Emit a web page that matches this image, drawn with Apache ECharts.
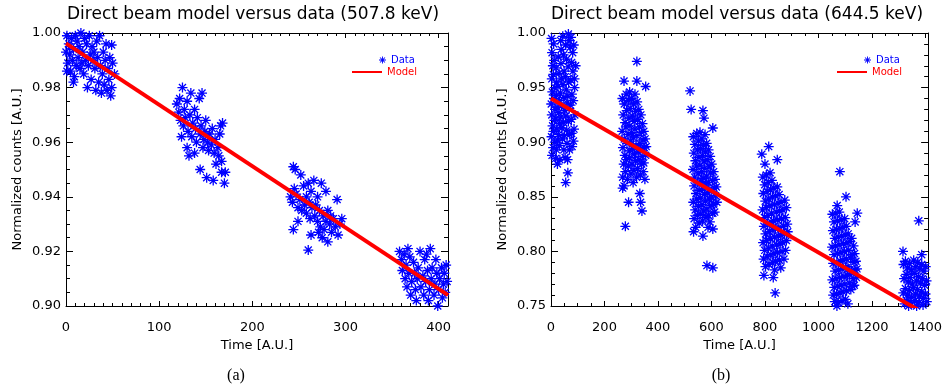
<!DOCTYPE html>
<html><head><meta charset="utf-8">
<script src="https://cdn.jsdelivr.net/npm/echarts@6/dist/echarts.min.js"></script>
<style>html,body{margin:0;padding:0;background:#fff}#c{width:945px;height:386px}</style>
</head><body><div id="c"></div>
<script>
// ---------- titles / labels ----------
const titles = ['Direct beam model versus data (507.8 keV)', 'Direct beam model versus data (644.5 keV)'];
const captions = ['(a)', '(b)'];
const xName = 'Time [A.U.]';
const yName = 'Normalized counts [A.U.]';

// ---------- axis ranges ----------
const leftX = {min: 0, max: 410, major: 100, minor: 10};
const leftY = {min: 0.90, max: 1.00, major: 0.02, minor: 0.005};
const rightX = {min: 0, max: 1410, major: 200, minor: 50};
const rightY = {min: 0.75, max: 1.00, major: 0.05, minor: 0.01};

// ---------- models ----------
const leftModel = [[0, 0.9962], [410, 0.9040]];
const rightModel = [[0, 0.940], [1410, 0.7412]];

// ---------- left data (507.8 keV) ----------
const leftC1 = [[1,0.999],[3,0.996],[4,0.992],[6,0.998],[8,0.994],[10,0.999],[12,0.997],[14,0.995],[16,1.000],[18,0.993],[20,0.998],[22,0.996],[25,0.999],[28,0.995],[30,0.993],[33,0.997],[36,0.999],[2,0.989],[5,0.986],[7,0.990],[9,0.984],[11,0.988],[13,0.991],[15,0.987],[17,0.989],[19,0.985],[21,0.990],[24,0.988],[26,0.992],[29,0.990],[31,0.987],[34,0.991],[37,0.988],[40,0.993],[42,0.990],[45,0.987],[47,0.991],[50,0.989],[43,0.996],[49,0.9956],[8,0.982],[23,0.980],[27,0.983],[32,0.979],[35,0.982],[38,0.978],[41,0.981],[44,0.979],[46,0.983],[48,0.977],[49,0.980],[39,0.985],[4,0.995],[0,0.993],[1,0.986],[52,0.985]];
const leftC2 = [[119,0.974],[121,0.971],[123,0.968],[122,0.976],[125,0.980],[127,0.972],[126,0.966],[128,0.969],[130,0.975],[131,0.964],[133,0.970],[134,0.978],[135,0.962],[136,0.967],[138,0.972],[139,0.965],[140,0.960],[141,0.969],[143,0.976],[144,0.963],[145,0.966],[146,0.978],[147,0.958],[148,0.961],[149,0.964],[150,0.968],[152,0.960],[153,0.957],[154,0.963],[156,0.959],[157,0.965],[159,0.956],[160,0.961],[161,0.952],[163,0.958],[164,0.955],[165,0.963],[166,0.966],[167,0.953],[168,0.967],[170,0.945],[171,0.949],[130,0.958],[138,0.956],[144,0.950],[151,0.947],[158,0.946],[167,0.949],[124,0.962],[132,0.955]];
const leftC3 = [[244,0.951],[246,0.950],[252,0.948],[255,0.944],[260,0.945],[263,0.942],[266,0.946],[270,0.940],[274,0.945],[279,0.942],[291,0.939],[241,0.940],[243,0.938],[247,0.941],[249,0.936],[251,0.939],[253,0.935],[256,0.937],[258,0.934],[261,0.938],[262,0.932],[264,0.936],[267,0.933],[268,0.937],[270,0.931],[272,0.935],[273,0.929],[276,0.933],[277,0.928],[279,0.931],[281,0.935],[283,0.930],[285,0.927],[287,0.932],[289,0.929],[292,0.926],[294,0.930],[249,0.931],[244,0.928],[263,0.926],[260,0.9205],[281,0.9235],[275,0.925],[245,0.943],[258,0.940],[271,0.927],[284,0.933],[296,0.932]];
const leftC4 = [[358,0.920],[360,0.917],[361,0.913],[363,0.919],[364,0.910],[365,0.915],[366,0.907],[368,0.912],[369,0.918],[370,0.904],[371,0.909],[373,0.916],[374,0.912],[375,0.906],[376,0.902],[377,0.910],[378,0.914],[380,0.920],[381,0.907],[382,0.899],[383,0.911],[384,0.904],[385,0.917],[386,0.909],[388,0.913],[389,0.902],[390,0.906],[391,0.921],[392,0.910],[393,0.914],[395,0.904],[396,0.908],[397,0.917],[398,0.912],[399,0.900],[400,0.906],[401,0.910],[403,0.914],[404,0.903],[405,0.908],[406,0.912],[407,0.905],[408,0.915],[409,0.909],[379,0.897],[372,0.898],[394,0.899],[387,0.919],[367,0.921]];

// ---------- right data (644.5 keV) ----------
const rightC1 = [[2,0.995],[4,0.982],[7,0.970],[3,0.958],[5,0.946],[1,0.935],[3,0.925],[6,0.915],[2,0.905],[8,0.895],[4,0.888],[10,0.990],[12,0.975],[9,0.962],[14,0.950],[11,0.940],[15,0.930],[13,0.920],[9,0.910],[14,0.900],[17,0.885],[19,0.968],[21,0.955],[20,0.943],[23,0.932],[18,0.922],[22,0.912],[25,0.902],[20,0.893],[24,0.880],[27,0.978],[30,0.963],[26,0.951],[31,0.938],[29,0.927],[32,0.917],[28,0.907],[31,0.897],[33,0.884],[36,0.993],[38,0.985],[37,0.972],[40,0.958],[35,0.945],[39,0.933],[37,0.923],[41,0.913],[42,0.903],[55,0.863],[63,0.872],[44,0.997],[47,0.980],[49,0.965],[45,0.953],[48,0.941],[51,0.929],[46,0.918],[50,0.906],[48,0.893],[53,0.886],[55,0.989],[58,0.976],[54,0.960],[57,0.948],[60,0.936],[56,0.924],[59,0.911],[60,0.899],[62,0.884],[65,0.999],[67,0.993],[64,0.969],[66,0.955],[63,0.942],[68,0.931],[65,0.919],[70,0.907],[69,0.893],[72,0.987],[75,0.996],[77,0.973],[74,0.957],[78,0.944],[73,0.934],[76,0.921],[77,0.908],[81,0.982],[85,0.989],[82,0.965],[88,0.950],[83,0.938],[89,0.925],[86,0.912],[92,0.970],[88,0.958],[79,0.896],[84,0.901]];
const rightC2 = [[321,0.974],[273,0.956],[321,0.956],[354,0.951],[268,0.858],[332,0.853],[278,0.823],[340,0.837],[335,0.845],[290,0.845],[267,0.940],[270,0.925],[266,0.910],[269,0.895],[272,0.880],[268,0.868],[274,0.935],[277,0.918],[274,0.903],[276,0.888],[278,0.873],[281,0.944],[283,0.929],[280,0.914],[284,0.899],[282,0.884],[286,0.866],[289,0.938],[291,0.922],[288,0.907],[292,0.892],[289,0.878],[294,0.946],[296,0.931],[295,0.915],[298,0.901],[294,0.886],[299,0.871],[301,0.940],[304,0.924],[301,0.909],[305,0.894],[303,0.880],[307,0.863],[309,0.935],[311,0.919],[308,0.904],[312,0.889],[310,0.874],[314,0.944],[316,0.928],[314,0.912],[318,0.897],[316,0.883],[320,0.868],[322,0.937],[324,0.921],[321,0.906],[326,0.891],[324,0.876],[328,0.930],[330,0.914],[332,0.899],[329,0.884],[334,0.870],[336,0.925],[338,0.909],[335,0.894],[339,0.880],[342,0.917],[344,0.902],[341,0.887],[345,0.873],[347,0.910],[349,0.895],[347,0.881],[352,0.903],[354,0.888],[356,0.896],[351,0.866],[273,0.860]];
const rightC3 = [[520,0.947],[524,0.930],[568,0.929],[572,0.922],[605,0.913],[568,0.814],[583,0.787],[605,0.785],[605,0.8205],[532,0.905],[534,0.890],[531,0.875],[535,0.860],[532,0.845],[535,0.830],[538,0.898],[540,0.883],[537,0.868],[542,0.853],[539,0.838],[541,0.822],[545,0.908],[547,0.893],[544,0.878],[548,0.863],[545,0.848],[547,0.833],[551,0.901],[553,0.886],[550,0.871],[554,0.856],[552,0.841],[554,0.826],[557,0.909],[559,0.894],[557,0.879],[561,0.864],[558,0.849],[560,0.834],[564,0.903],[566,0.888],[563,0.873],[567,0.858],[564,0.843],[567,0.828],[570,0.897],[572,0.882],[569,0.867],[574,0.852],[571,0.837],[576,0.907],[578,0.891],[575,0.876],[579,0.861],[577,0.846],[579,0.831],[582,0.899],[584,0.884],[582,0.869],[586,0.854],[583,0.839],[589,0.893],[591,0.878],[588,0.863],[592,0.848],[589,0.833],[595,0.887],[597,0.872],[594,0.857],[599,0.842],[601,0.880],[604,0.865],[601,0.850],[605,0.835],[608,0.873],[610,0.858],[607,0.843],[613,0.866],[615,0.851],[612,0.836],[618,0.859],[620,0.845],[533,0.818],[587,0.822],[594,0.827]];
const rightC4 = [[788,0.889],[814,0.896],[846,0.884],[838,0.762],[871,0.749],[800,0.880],[792,0.868],[794,0.853],[791,0.838],[796,0.823],[793,0.808],[795,0.793],[799,0.861],[801,0.846],[798,0.831],[802,0.816],[799,0.801],[802,0.786],[805,0.870],[808,0.855],[805,0.840],[809,0.825],[806,0.810],[808,0.795],[812,0.863],[814,0.848],[811,0.833],[816,0.818],[813,0.803],[815,0.788],[819,0.872],[821,0.857],[818,0.842],[823,0.827],[820,0.812],[822,0.797],[826,0.865],[828,0.850],[825,0.835],[830,0.820],[827,0.805],[829,0.790],[833,0.858],[835,0.843],[832,0.828],[836,0.813],[833,0.798],[836,0.783],[840,0.851],[842,0.836],[839,0.821],[843,0.806],[840,0.791],[846,0.859],[849,0.844],[846,0.829],[850,0.814],[847,0.799],[853,0.852],[855,0.837],[852,0.822],[857,0.807],[854,0.792],[860,0.845],[862,0.830],[859,0.815],[864,0.800],[867,0.838],[869,0.823],[866,0.808],[871,0.793],[874,0.847],[876,0.831],[873,0.816],[877,0.801],[880,0.840],[883,0.825],[880,0.810],[885,0.818],[796,0.778],[831,0.776],[859,0.785]];
const rightC5 = [[1080,0.873],[1070,0.842],[1103,0.850],[1137,0.827],[1145,0.835],[1052,0.834],[1054,0.819],[1051,0.804],[1055,0.789],[1052,0.774],[1055,0.760],[1058,0.827],[1061,0.812],[1058,0.797],[1062,0.782],[1059,0.767],[1061,0.754],[1065,0.835],[1067,0.820],[1064,0.805],[1069,0.790],[1066,0.775],[1068,0.761],[1071,0.828],[1074,0.813],[1071,0.798],[1075,0.783],[1072,0.768],[1074,0.753],[1078,0.836],[1080,0.821],[1077,0.806],[1082,0.791],[1079,0.776],[1081,0.762],[1085,0.829],[1087,0.814],[1084,0.799],[1088,0.784],[1085,0.769],[1088,0.755],[1091,0.822],[1093,0.807],[1091,0.792],[1095,0.777],[1092,0.763],[1098,0.830],[1100,0.815],[1097,0.800],[1102,0.785],[1099,0.770],[1101,0.756],[1104,0.823],[1107,0.808],[1104,0.793],[1108,0.778],[1105,0.764],[1111,0.816],[1113,0.801],[1110,0.786],[1115,0.771],[1118,0.809],[1120,0.794],[1117,0.779],[1121,0.765],[1124,0.812],[1126,0.797],[1123,0.782],[1128,0.768],[1131,0.805],[1133,0.790],[1130,0.775],[1135,0.798],[1137,0.783],[1134,0.769],[1140,0.791],[1142,0.776],[1144,0.784],[1069,0.750],[1110,0.752]];
const rightC6 = [[1375,0.828],[1316,0.800],[1386,0.797],[1318,0.788],[1320,0.775],[1317,0.762],[1322,0.752],[1325,0.791],[1328,0.779],[1325,0.766],[1330,0.755],[1333,0.785],[1336,0.772],[1332,0.760],[1341,0.789],[1343,0.776],[1340,0.764],[1345,0.753],[1348,0.783],[1351,0.770],[1347,0.758],[1356,0.792],[1358,0.780],[1355,0.767],[1360,0.755],[1364,0.786],[1366,0.773],[1363,0.761],[1371,0.790],[1374,0.777],[1370,0.765],[1375,0.753],[1379,0.784],[1381,0.771],[1378,0.759],[1386,0.788],[1389,0.775],[1386,0.763],[1391,0.751],[1394,0.782],[1397,0.769],[1393,0.757],[1401,0.786],[1404,0.773],[1400,0.761],[1405,0.754],[1367,0.750],[1337,0.750]];

// ---------- styling ----------
const BLUE = '#0000ff', RED = '#ff0000', INK = '#000000';
const FONT = 'DejaVu Sans';
const ASTERISK = 'path://M0 8.7L20 8.7L20 11.3L0 11.3Z M8.7 0L11.3 0L11.3 20L8.7 20Z M3.85 2.01L17.99 16.15L16.15 17.99L2.01 3.85Z M2.01 16.15L16.15 2.01L17.99 3.85L3.85 17.99Z';

const grids = [
  {left: 66, top: 33, width: 382, height: 273},
  {left: 551, top: 33, width: 382, height: 273}
];

function axisSet(dim, gi, r, sides, lenMajor, lenMinor, fmt, name) {
  const out = [];
  sides.forEach((pos, si) => {
    const main = si === 0;
    out.push({
      type: 'value', gridIndex: gi, position: pos, min: r.min, max: r.max, interval: r.major,
      axisLine: {show: true, onZero: false, lineStyle: {color: INK, width: 1}},
      axisTick: {show: true, inside: true, length: lenMajor, lineStyle: {color: INK, width: 1}},
      axisLabel: main ? {show: true, color: INK, fontFamily: FONT, fontSize: 13, margin: dim === 'x' ? 15 : 5,
        formatter: fmt, showMaxLabel: dim === 'y', showMinLabel: true} : {show: false},
      splitLine: {show: false},
      name: main ? name : '', nameLocation: 'middle', nameGap: dim === 'x' ? 30 : 42,
      nameTextStyle: {color: INK, fontFamily: FONT, fontSize: 13}
    });
    out.push({
      type: 'value', gridIndex: gi, position: pos, min: r.min, max: r.max, interval: r.minor,
      axisLine: {show: false, onZero: false},
      axisTick: {show: true, inside: true, length: lenMinor, lineStyle: {color: INK, width: 1}},
      axisLabel: {show: false}, splitLine: {show: false}
    });
  });
  return out;
}

const fx = v => String(Math.round(v));
const fy = v => v.toFixed(2);

const xAxes = [
  ...axisSet('x', 0, leftX, ['bottom', 'top'], 5, 3, fx, xName),
  ...axisSet('x', 1, rightX, ['bottom', 'top'], 5, 3, fx, xName)
];
const yAxes = [
  ...axisSet('y', 0, leftY, ['left', 'right'], 7, 4, fy, yName),
  ...axisSet('y', 1, rightY, ['left', 'right'], 7, 4, fy, yName)
];

const leftData = [].concat(leftC1, leftC2, leftC3, leftC4);
const rightData = [].concat(rightC1, rightC2, rightC3, rightC4, rightC5, rightC6);

function scatter(data, xi, yi) {
  return {name: 'Data', type: 'scatter', xAxisIndex: xi, yAxisIndex: yi, data: data,
    symbol: ASTERISK, symbolSize: 10, itemStyle: {color: BLUE, opacity: 1}, clip: true,
    emphasis: {disabled: true}, silent: true, z: 2};
}
function model(data, xi, yi) {
  return {name: 'Model', type: 'line', xAxisIndex: xi, yAxisIndex: yi, data: data,
    showSymbol: false, symbol: 'none', lineStyle: {color: RED, width: 4}, itemStyle: {color: RED},
    clip: true, silent: true, z: 3, animation: false};
}

function legends(frameRight) {
  return [
    {data: [{name: 'Data', icon: ASTERISK, textStyle: {color: BLUE}}], left: frameRight - 69, top: 55,
      itemWidth: 7, itemHeight: 7, padding: 0, selectedMode: false,
      textStyle: {fontFamily: FONT, fontSize: 10, color: BLUE}},
    {data: [{name: 'Model', icon: 'rect', textStyle: {color: RED}}], left: frameRight - 96, top: 67,
      itemWidth: 30, itemHeight: 2, padding: 0, selectedMode: false,
      textStyle: {fontFamily: FONT, fontSize: 10, color: RED}}
  ];
}

const option = {
  animation: false,
  backgroundColor: '#fff',
  title: [
    {text: titles[0], left: 67, top: 6, padding: 0, textStyle: {fontFamily: FONT, fontSize: 17, fontWeight: 'normal', color: INK}},
    {text: titles[1], left: 551, top: 6, padding: 0, textStyle: {fontFamily: FONT, fontSize: 17, fontWeight: 'normal', color: INK}}
  ],
  legend: [...legends(448), ...legends(933)],
  grid: grids,
  xAxis: xAxes,
  yAxis: yAxes,
  series: [
    scatter(leftData, 0, 0), model(leftModel, 0, 0),
    scatter(rightData, 4, 4), model(rightModel, 4, 4)
  ],
  graphic: [
    {type: 'text', x: 236, y: 376, style: {text: captions[0], fontFamily: 'Liberation Serif', fontSize: 16, fill: INK, textAlign: 'center', textVerticalAlign: 'middle'}},
    {type: 'text', x: 721, y: 376, style: {text: captions[1], fontFamily: 'Liberation Serif', fontSize: 16, fill: INK, textAlign: 'center', textVerticalAlign: 'middle'}}
  ]
};

const chart = echarts.init(document.getElementById('c'), null, {renderer: 'canvas'});
chart.setOption(option);
</script>
</body></html>
